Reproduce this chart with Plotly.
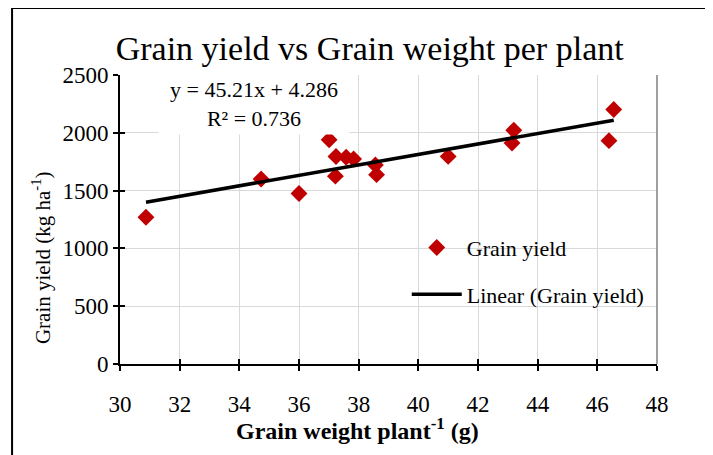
import plotly.graph_objects as go

# ---- data ----
grain_weight = [30.87, 34.73, 36.0, 37.01, 37.24, 37.22, 37.58, 37.83, 38.56, 38.6,
                41.0, 43.2, 43.14, 46.55, 46.39]
grain_yield = [1270, 1600, 1475, 1940, 1795, 1625, 1788, 1774, 1722, 1638,
               1796, 2022, 1912, 2201, 1932]
trend_slope = 45.21
trend_intercept = 4.286
r_squared = 0.736
x_ticks = [30, 32, 34, 36, 38, 40, 42, 44, 46, 48]
y_ticks = [0, 500, 1000, 1500, 2000, 2500]

FONT = "Liberation Serif, Times New Roman, serif"

trend_x = [min(grain_weight), max(grain_weight)]
trend_y = [trend_slope * v + trend_intercept for v in trend_x]

fig = go.Figure()
fig.add_trace(go.Scatter(
    x=grain_weight, y=grain_yield, mode="markers", name="Grain yield",
    marker=dict(symbol="diamond", color="#C00000", size=13),
    legendgroup="a"))
fig.add_trace(go.Scatter(
    x=trend_x, y=trend_y, mode="lines", name="Linear (Grain yield)",
    line=dict(color="black", width=3.5), legendgroup="b"))
# dummy trace to carry the overlay axes (ticks crossing the axis lines)
fig.add_trace(go.Scatter(x=[None], y=[None], xaxis="x2", yaxis="y2",
                         showlegend=False, hoverinfo="skip"))

axis_font = dict(family=FONT, size=23, color="black")
fig.update_layout(
    width=705, height=447,
    margin=dict(l=112, r=56, t=67, b=91),
    paper_bgcolor="white", plot_bgcolor="white",
    showlegend=True,
    title=dict(text="Grain yield vs Grain weight per plant",
               font=dict(family=FONT, size=34, color="black"),
               xref="paper", x=0.465, xanchor="center",
               yref="container", y=1 - 40 / 447, yanchor="middle"),
    xaxis=dict(range=[30, 48], tickvals=x_ticks, ticks="outside", ticklen=5,
               tickcolor="black", tickwidth=1.5,
               showline=True, linecolor="black", linewidth=2,
               showgrid=True, gridcolor="#D9D9D9", gridwidth=1, zeroline=False,
               tickfont=axis_font, ticklabelstandoff=13),
    yaxis=dict(range=[0, 2500], tickvals=y_ticks, ticks="outside", ticklen=5,
               tickcolor="black", tickwidth=1.5,
               showline=True, linecolor="black", linewidth=2,
               showgrid=True, gridcolor="#D9D9D9", gridwidth=1, zeroline=False,
               tickfont=axis_font, ticklabelstandoff=0),
    xaxis2=dict(range=[30, 48], tickvals=x_ticks, ticks="inside", ticklen=5,
                tickcolor="black", tickwidth=1.5, overlaying="x", anchor="y2",
                showticklabels=False, showgrid=False, zeroline=False, showline=False),
    yaxis2=dict(range=[0, 2500], tickvals=y_ticks, ticks="inside", ticklen=5,
                tickcolor="black", tickwidth=1.5, overlaying="y", anchor="x2",
                side="left",
                showticklabels=False, showgrid=False, zeroline=False, showline=False),
    legend=dict(x=0.534, y=0.475, xanchor="left", yanchor="top",
                bgcolor="rgba(0,0,0,0)", font=dict(family=FONT, size=22, color="black"),
                tracegroupgap=15, itemwidth=50),
)

fig.add_annotation(
    text=f"y = {trend_slope}x + {trend_intercept}<br>R² = {r_squared}",
    xref="paper", yref="paper", x=0.249, y=0.898,
    xanchor="center", yanchor="middle",
    showarrow=False, bgcolor="white", width=188, height=58,
    font=dict(family=FONT, size=22, color="black"), align="center")

fig.add_annotation(
    text="Grain yield (kg ha<sup>-1</sup>)", textangle=-90,
    xref="paper", yref="paper", x=-0.145, y=0.367,
    xanchor="center", yanchor="middle", showarrow=False,
    font=dict(family=FONT, size=21, color="black"))

fig.add_annotation(
    text="<b>Grain weight plant<sup>-1</sup> (g)</b>",
    xref="paper", yref="paper", x=0.443, y=-0.225,
    xanchor="center", yanchor="middle", showarrow=False,
    font=dict(family=FONT, size=24, color="black"))

# plot-area right border (gray) and outer chart frame
fig.add_shape(type="line", xref="paper", yref="paper", x0=1, x1=1, y0=0, y1=1,
              line=dict(color="#7F7F7F", width=1.5))
fig.add_shape(type="line", xref="paper", yref="paper", x0=-0.201, x1=1.2,
              y0=1.232, y1=1.232, line=dict(color="black", width=2))
fig.add_shape(type="line", xref="paper", yref="paper", x0=-0.201, x1=-0.201,
              y0=-0.4, y1=1.232, line=dict(color="black", width=2))

fig.write_html("out.html")
